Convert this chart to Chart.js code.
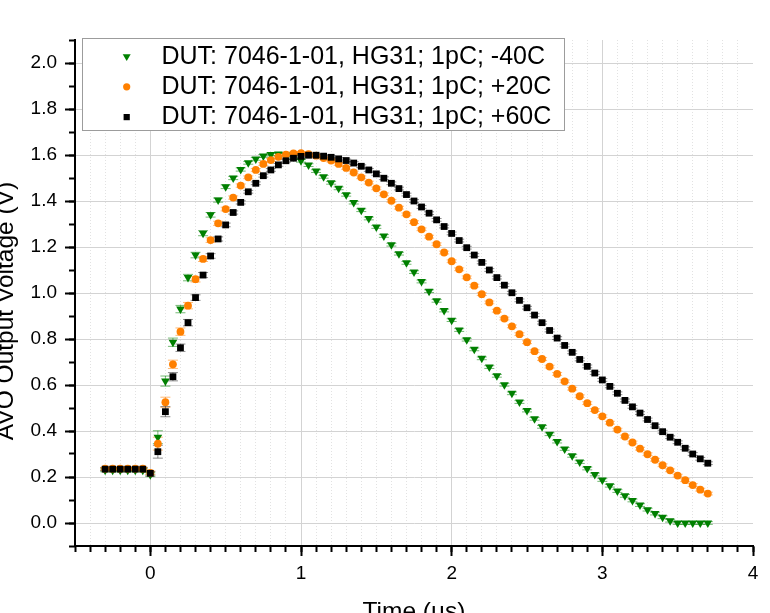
<!DOCTYPE html>
<html>
<head>
<meta charset="utf-8">
<script src="https://cdn.jsdelivr.net/npm/chart.js@4.4.1/dist/chart.umd.min.js"></script>
<style>
  html, body { margin: 0; padding: 0; background: #ffffff; overflow: hidden; }
  #wrap { position: relative; width: 770px; height: 613px; }
</style>
</head>
<body>
<div id="wrap"><canvas id="chart" width="770" height="613"></canvas></div>
<script>
// ---------------- DATA ----------------
const timeUs = [
  -0.3,-0.25,-0.2,-0.15,-0.1,-0.05,0,0.05,0.1,0.15,
  0.2,0.25,0.3,0.35,0.4,0.45,0.5,0.55,0.6,0.65,
  0.7,0.75,0.8,0.85,0.9,0.95,1,1.05,1.1,1.15,
  1.2,1.25,1.3,1.35,1.4,1.45,1.5,1.55,1.6,1.65,
  1.7,1.75,1.8,1.85,1.9,1.95,2,2.05,2.1,2.15,
  2.2,2.25,2.3,2.35,2.4,2.45,2.5,2.55,2.6,2.65,
  2.7,2.75,2.8,2.85,2.9,2.95,3,3.05,3.1,3.15,
  3.2,3.25,3.3,3.35,3.4,3.45,3.5,3.55,3.6,3.65,
  3.7
];

const voltMinus40C = [
  0.229,0.229,0.229,0.229,0.229,0.229,0.21,0.373,0.617,0.786,
  0.93,1.067,1.165,1.26,1.34,1.404,1.462,1.50,1.537,1.566,
  1.583,1.596,1.602,1.604,1.60,1.592,1.575,1.556,1.530,1.505,
  1.479,1.455,1.427,1.393,1.36,1.324,1.287,1.248,1.21,1.171,
  1.131,1.091,1.05,1.008,0.966,0.924,0.882,0.839,0.797,0.755,
  0.716,0.678,0.64,0.601,0.564,0.526,0.489,0.453,0.418,0.386,
  0.354,0.322,0.292,0.265,0.237,0.211,0.187,0.162,0.139,0.118,
  0.098,0.078,0.058,0.041,0.025,0.01,0,0,0,0,
  0
];

const voltPlus20C = [
  0.236,0.236,0.236,0.236,0.236,0.236,0.218,0.345,0.525,0.69,
  0.832,0.945,1.06,1.148,1.23,1.303,1.365,1.415,1.467,1.503,
  1.535,1.561,1.578,1.592,1.602,1.607,1.608,1.604,1.597,1.587,
  1.576,1.561,1.544,1.524,1.503,1.48,1.455,1.429,1.401,1.371,
  1.342,1.308,1.277,1.245,1.212,1.176,1.138,1.103,1.068,1.032,
  0.995,0.959,0.923,0.889,0.855,0.821,0.786,0.747,0.713,0.68,
  0.648,0.616,0.584,0.551,0.521,0.491,0.464,0.436,0.406,0.376,
  0.35,0.323,0.299,0.275,0.251,0.229,0.206,0.186,0.165,0.145,
  0.128
];

const voltPlus60C = [
  0.234,0.234,0.234,0.234,0.234,0.234,0.216,0.31,0.484,0.636,
  0.762,0.871,0.98,1.078,1.161,1.235,1.296,1.35,1.394,1.44,
  1.477,1.51,1.535,1.557,1.575,1.586,1.594,1.599,1.599,1.595,
  1.59,1.583,1.576,1.565,1.551,1.535,1.518,1.499,1.477,1.454,
  1.428,1.40,1.374,1.347,1.318,1.289,1.259,1.228,1.197,1.165,
  1.133,1.10,1.067,1.034,1.001,0.968,0.936,0.904,0.871,0.837,
  0.804,0.772,0.742,0.711,0.681,0.652,0.622,0.594,0.564,0.533,
  0.505,0.478,0.45,0.423,0.397,0.373,0.351,0.325,0.30,0.279,
  0.26
];

// error bar half-heights (V)
const errorV = [
  0.006,0.006,0.006,0.006,0.006,0.006,0.008,0.028,0.022,0.018,
  0.016,0.014,0.012,0.011,0.01,0.009,0.008,0.007,0.007,0.006,
  0.006,0.006,0.006,0.006,0.006,0.006,0.006,0.006,0.006,0.006,
  0.006,0.006,0.006,0.006,0.006,0.006,0.006,0.006,0.006,0.006,
  0.006,0.006,0.006,0.006,0.006,0.006,0.006,0.006,0.006,0.006,
  0.006,0.006,0.006,0.006,0.006,0.006,0.006,0.006,0.006,0.006,
  0.006,0.006,0.006,0.006,0.006,0.006,0.006,0.006,0.006,0.006,
  0.006,0.006,0.006,0.006,0.006,0.006,0.006,0.006,0.006,0.006,
  0.006
];

const seriesLabels = [
  'DUT: 7046-1-01, HG31; 1pC; -40C',
  'DUT: 7046-1-01, HG31; 1pC; +20C',
  'DUT: 7046-1-01, HG31; 1pC; +60C'
];

const xTitle = 'Time (\u00B5s)';
const yTitle = 'AVO Output Voltage (V)';

const xMajorTicks = [0, 1, 2, 3, 4];
const xMinorTicks = [
  -0.5,-0.4,-0.3,-0.2,-0.1,0,0.1,0.2,0.3,0.4,0.5,0.6,0.7,0.8,0.9,
  1,1.1,1.2,1.3,1.4,1.5,1.6,1.7,1.8,1.9,2,2.1,2.2,2.3,2.4,2.5,2.6,2.7,2.8,2.9,
  3,3.1,3.2,3.3,3.4,3.5,3.6,3.7,3.8,3.9,4
];
const yMajorTicks = [0, 0.2, 0.4, 0.6, 0.8, 1.0, 1.2, 1.4, 1.6, 1.8, 2.0];
const yMinorTicks = [
  -0.1,0,0.1,0.2,0.3,0.4,0.5,0.6,0.7,0.8,0.9,1.0,1.1,1.2,1.3,1.4,1.5,1.6,1.7,1.8,1.9,2.0,2.1
];

// ---------------- STYLE ----------------
const FONT = "'Liberation Sans', Arial, Helvetica, sans-serif";
Chart.defaults.font.family = FONT;

function toPoints(xs, ys) { return xs.map((x, i) => ({ x: x, y: ys[i] })); }

const isNearInt = v => Math.abs(v - Math.round(v)) < 1e-6;

// error bars (drawn below markers)
const errorBarPlugin = {
  id: 'errorBars',
  beforeDatasetsDraw(chart) {
    const { ctx, chartArea } = chart;
    const xs = chart.scales.x, ys = chart.scales.y;
    ctx.save();
    ctx.beginPath();
    ctx.rect(chartArea.left, chartArea.top, chartArea.right - chartArea.left, chartArea.bottom - chartArea.top);
    ctx.clip();
    chart.data.datasets.forEach(ds => {
      if (!ds.errors) return;
      ctx.strokeStyle = ds.errorColor;
      ctx.lineWidth = 1;
      ds.data.forEach((p, i) => {
        const e = ds.errors[i];
        const px = xs.getPixelForValue(p.x);
        const y1 = ys.getPixelForValue(p.y + e);
        const y2 = ys.getPixelForValue(p.y - e);
        ctx.beginPath();
        ctx.moveTo(px, y1); ctx.lineTo(px, y2);
        ctx.moveTo(px - 5, y1); ctx.lineTo(px + 5, y1);
        ctx.moveTo(px - 5, y2); ctx.lineTo(px + 5, y2);
        ctx.stroke();
      });
    });
    ctx.restore();
  }
};

function drawMarker(ctx, style, rotation, radius, x, y) {
  if (Chart.helpers && Chart.helpers.drawPoint) {
    Chart.helpers.drawPoint(ctx, { pointStyle: style, rotation: rotation, radius: radius, borderWidth: 0 }, x, y);
    return;
  }
  ctx.beginPath();
  if (style === 'circle') { ctx.arc(x, y, radius, 0, Math.PI * 2); }
  else if (style === 'rect') { const s = radius * Math.SQRT1_2; ctx.rect(x - s, y - s, 2 * s, 2 * s); }
  else { ctx.moveTo(x - radius * 0.866, y - radius * 0.5); ctx.lineTo(x + radius * 0.866, y - radius * 0.5); ctx.lineTo(x, y + radius); ctx.closePath(); }
  ctx.fill();
}

// framed legend inside the plot, upper left
const boxLegendPlugin = {
  id: 'boxLegend',
  afterDraw(chart) {
    const ctx = chart.ctx;
    ctx.save();
    ctx.fillStyle = '#ffffff';
    ctx.fillRect(82.5, 38.5, 482, 92);
    ctx.strokeStyle = '#9c9c9c';
    ctx.lineWidth = 1;
    ctx.strokeRect(82.5, 38.5, 482, 92);
    ctx.font = '25px ' + FONT;
    ctx.textAlign = 'left';
    ctx.textBaseline = 'middle';
    chart.data.datasets.forEach((ds, i) => {
      const y = 56.5 + i * 30.3;
      ctx.fillStyle = ds.pointBackgroundColor;
      ctx.strokeStyle = ds.pointBackgroundColor;
      drawMarker(ctx, ds.pointStyle, ds.pointRotation || 0, ds.legendRadius, 126.7, y);
      ctx.fillStyle = '#000000';
      ctx.fillText(ds.label, 161.5, y + 0.4);
    });
    ctx.restore();
  }
};

// rotated y-axis title, partly cut by the left edge as in the original
const yTitlePlugin = {
  id: 'yTitle',
  afterDraw(chart) {
    const ctx = chart.ctx;
    ctx.save();
    ctx.font = '24.5px ' + FONT;
    ctx.fillStyle = '#000000';
    ctx.translate(13, 311);
    ctx.rotate(-Math.PI / 2);
    ctx.textAlign = 'center';
    ctx.textBaseline = 'alphabetic';
    ctx.fillText(yTitle, 0, 0);
    ctx.restore();
  }
};

const datasets = [
  {
    label: seriesLabels[0],
    data: toPoints(timeUs, voltMinus40C),
    errors: errorV,
    errorColor: 'rgba(0,128,0,0.55)',
    pointStyle: 'triangle',
    pointRotation: 180,
    pointRadius: 5,
    legendRadius: 4.6,
    pointBackgroundColor: '#008000',
    pointBorderColor: '#008000',
    pointBorderWidth: 0,
    showLine: false,
    order: 3
  },
  {
    label: seriesLabels[1],
    data: toPoints(timeUs, voltPlus20C),
    errors: errorV,
    errorColor: 'rgba(255,128,0,0.55)',
    pointStyle: 'circle',
    pointRadius: 3.9,
    legendRadius: 3.6,
    pointBackgroundColor: '#ff8000',
    pointBorderColor: '#ff8000',
    pointBorderWidth: 0,
    showLine: false,
    order: 2
  },
  {
    label: seriesLabels[2],
    data: toPoints(timeUs, voltPlus60C),
    errors: errorV,
    errorColor: 'rgba(0,0,0,0.45)',
    pointStyle: 'rect',
    pointRadius: 4.8,
    legendRadius: 4.4,
    pointBackgroundColor: '#000000',
    pointBorderColor: '#000000',
    pointBorderWidth: 0,
    showLine: false,
    order: 1
  }
];

new Chart(document.getElementById('chart'), {
  type: 'scatter',
  data: { datasets: datasets },
  plugins: [errorBarPlugin, boxLegendPlugin, yTitlePlugin],
  options: {
    responsive: false,
    animation: false,
    events: [],
    devicePixelRatio: 1,
    layout: { padding: { left: 0, right: 17, top: 40, bottom: 0 } },
    plugins: { legend: { display: false }, tooltip: { enabled: false } },
    scales: {
      xMinor: {
        type: 'linear', position: 'bottom', min: -0.5, max: 4, weight: 0,
        afterBuildTicks: s => { s.ticks = xMinorTicks.map(v => ({ value: v })); },
        ticks: { display: false },
        grid: {
          drawOnChartArea: true,
          color: c => (c.tick && !isNearInt(c.tick.value) && Math.abs(c.tick.value + 0.5) > 1e-6) ? '#e2e2e2' : 'rgba(0,0,0,0)',
          lineWidth: 1,
          tickLength: 6, tickWidth: 2, tickColor: '#000000'
        },
        border: { display: false, dash: [1, 2] },
        afterFit: s => { s.height = 0; }
      },
      x: {
        type: 'linear', position: 'bottom', min: -0.5, max: 4, weight: 1,
        afterBuildTicks: s => { s.ticks = xMajorTicks.map(v => ({ value: v })); },
        ticks: {
          font: { family: FONT, size: 19 }, color: '#000000', padding: 6.5,
          maxRotation: 0, autoSkip: false,
          callback: v => String(v)
        },
        grid: {
          color: c => (c.tick && c.tick.value === 4) ? 'rgba(0,0,0,0)' : '#d3d3d3',
          lineWidth: 1,
          tickLength: 10, tickWidth: 2, tickColor: '#000000'
        },
        border: { display: true, color: '#000000', width: 2 },
        title: {
          display: true, text: xTitle, color: '#000000',
          font: { family: FONT, size: 24.5 },
          padding: { top: 0, bottom: -13.9 }
        },
        afterFit: s => { s.height = 67; }
      },
      yMinor: {
        type: 'linear', position: 'left', min: -0.1, max: 2.1, weight: 0,
        afterBuildTicks: s => { s.ticks = yMinorTicks.map(v => ({ value: v })); },
        ticks: { display: false },
        grid: { drawOnChartArea: false, tickLength: 6, tickWidth: 2, tickColor: '#000000' },
        border: { display: false },
        afterFit: s => { s.width = 0; }
      },
      y: {
        type: 'linear', position: 'left', min: -0.1, max: 2.1, weight: 1,
        afterBuildTicks: s => { s.ticks = yMajorTicks.map(v => ({ value: v })); },
        ticks: {
          font: { family: FONT, size: 19 }, color: '#000000', padding: 8,
          callback: v => Number(v).toFixed(1)
        },
        grid: {
          color: '#d3d3d3', lineWidth: 1,
          tickLength: 10, tickWidth: 2, tickColor: '#000000'
        },
        border: { display: true, color: '#000000', width: 2 },
        afterFit: s => { s.width = 75; }
      }
    }
  }
});
</script>
</body>
</html>
